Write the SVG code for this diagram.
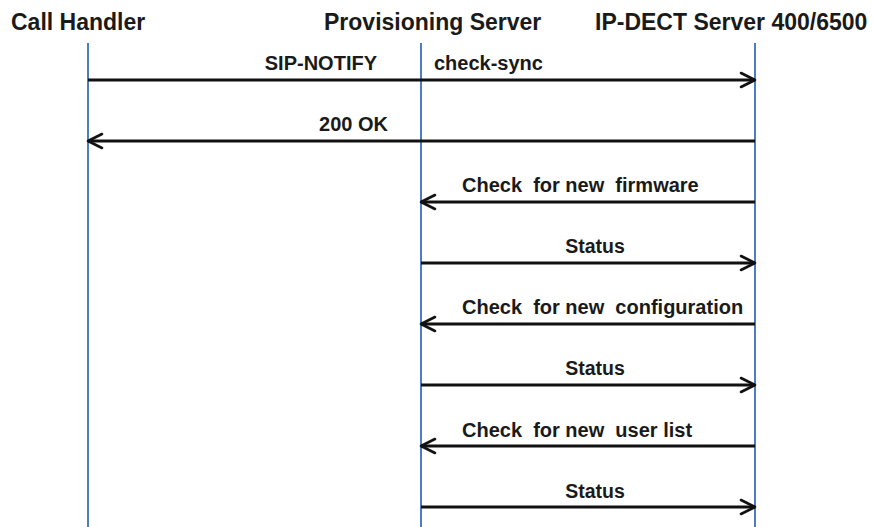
<svg xmlns="http://www.w3.org/2000/svg" width="873" height="527" viewBox="0 0 873 527">
<style>
.hdr{font-family:"Liberation Sans",Arial,sans-serif;font-weight:bold;font-size:23px;fill:#1a1a1a}
.lbl{font-family:"Liberation Sans",Arial,sans-serif;font-weight:bold;font-size:20px;fill:#1a1a1a}
.st{font-size:19.5px}
.life{stroke:#4a7fc3;stroke-width:2;fill:none}
.msg{stroke:#111;stroke-width:3;fill:none}
</style>
<defs>
<marker id="ah" markerUnits="userSpaceOnUse" markerWidth="20" markerHeight="20" viewBox="-2 -2 20 20" refX="15" refY="7" orient="auto">
<path d="M1,0 L15,7 L1,14" fill="none" stroke="#111" stroke-width="2.6" stroke-linejoin="round" stroke-linecap="round"/>
</marker>
</defs>
<g id="call-handler">
<text class="hdr" x="11" y="30">Call Handler</text>
<line class="life" x1="88" y1="43" x2="88" y2="527"/>
</g>
<g id="provisioning-server">
<text class="hdr" x="324" y="30">Provisioning Server</text>
<line class="life" x1="421" y1="43" x2="421" y2="527"/>
</g>
<g id="ip-dect-server">
<text class="hdr" x="595" y="30">IP-DECT Server 400/6500</text>
<line class="life" x1="755" y1="43" x2="755" y2="527"/>
</g>
<g id="connectors">
<line class="msg" x1="88" y1="80" x2="755" y2="80" marker-end="url(#ah)"/>
<text class="lbl" x="377" y="70" text-anchor="end">SIP-NOTIFY</text>
<text class="lbl" x="434" y="70">check-sync</text>
<line class="msg" x1="755" y1="141" x2="88" y2="141" marker-end="url(#ah)"/>
<text class="lbl" x="388" y="131" text-anchor="end">200 OK</text>
<line class="msg" x1="755" y1="202" x2="421" y2="202" marker-end="url(#ah)"/>
<text class="lbl" x="462" y="192" xml:space="preserve">Check  for new  firmware</text>
<line class="msg" x1="421" y1="263" x2="755" y2="263" marker-end="url(#ah)"/>
<text class="lbl st" x="595" y="253" text-anchor="middle">Status</text>
<line class="msg" x1="755" y1="324" x2="421" y2="324" marker-end="url(#ah)"/>
<text class="lbl" x="462" y="314" xml:space="preserve">Check  for new  configuration</text>
<line class="msg" x1="421" y1="385" x2="755" y2="385" marker-end="url(#ah)"/>
<text class="lbl st" x="595" y="375" text-anchor="middle">Status</text>
<line class="msg" x1="755" y1="446" x2="421" y2="446" marker-end="url(#ah)"/>
<text class="lbl" x="462" y="437" xml:space="preserve">Check  for new  user list</text>
<line class="msg" x1="421" y1="507" x2="755" y2="507" marker-end="url(#ah)"/>
<text class="lbl st" x="595" y="498" text-anchor="middle">Status</text>
</g>
</svg>
